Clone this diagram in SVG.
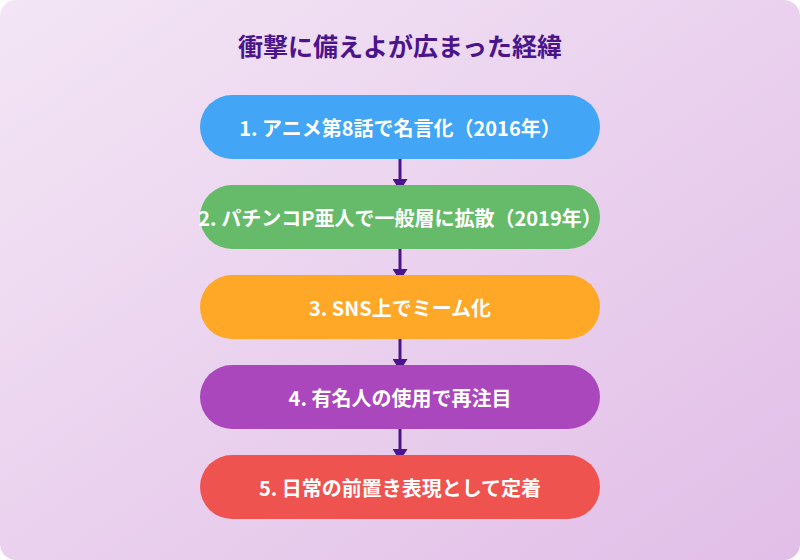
<svg xmlns="http://www.w3.org/2000/svg" width="800" height="560" viewBox="0 0 800 560">
<defs>
<linearGradient id="bg" x1="0" y1="0" x2="1" y2="1">
<stop offset="0" stop-color="#f3e5f5"/>
<stop offset="1" stop-color="#e1bee7"/>
</linearGradient>
<marker id="ah" viewBox="0 0 12 15" refX="12" refY="7.5" markerWidth="12" markerHeight="15" orient="auto" markerUnits="userSpaceOnUse">
<path d="M0,0 L12,7.5 L0,15 z" fill="#4a148c"/>
</marker>
<style>
.t{font-family:"Noto Sans CJK JP","Noto Sans",sans-serif;font-weight:bold;}
.title{font-size:25px;fill:#4a148c;}
.lbl{font-size:20px;fill:#ffffff;}
.conn{stroke:#4a148c;stroke-width:3;fill:none;marker-end:url(#ah);}
</style>
</defs>
<rect x="0" y="0" width="800" height="560" rx="16" fill="url(#bg)"/>
<text class="t title" x="400" y="45" text-anchor="middle" dominant-baseline="central">衝撃に備えよが広まった経緯</text>
<g id="connectors">
<line class="conn" x1="400" y1="159" x2="400" y2="191"/>
<line class="conn" x1="400" y1="249" x2="400" y2="281"/>
<line class="conn" x1="400" y1="339" x2="400" y2="371"/>
<line class="conn" x1="400" y1="429" x2="400" y2="461"/>
</g>
<g id="n1"><rect x="200" y="95" width="400" height="64" rx="32" fill="#42a5f5"/><text class="t lbl" x="400" y="127" text-anchor="middle" dominant-baseline="central">1. アニメ第8話で名言化（2016年）</text></g>
<g id="n2"><rect x="200" y="185" width="400" height="64" rx="32" fill="#66bb6a"/><text class="t lbl" x="400" y="217" text-anchor="middle" dominant-baseline="central">2. パチンコP亜人で一般層に拡散（2019年）</text></g>
<g id="n3"><rect x="200" y="275" width="400" height="64" rx="32" fill="#ffa726"/><text class="t lbl" x="400" y="307" text-anchor="middle" dominant-baseline="central">3. SNS上でミーム化</text></g>
<g id="n4"><rect x="200" y="365" width="400" height="64" rx="32" fill="#ab47bc"/><text class="t lbl" x="400" y="397" text-anchor="middle" dominant-baseline="central">4. 有名人の使用で再注目</text></g>
<g id="n5"><rect x="200" y="455" width="400" height="64" rx="32" fill="#ef5350"/><text class="t lbl" x="400" y="487" text-anchor="middle" dominant-baseline="central">5. 日常の前置き表現として定着</text></g>
</svg>
